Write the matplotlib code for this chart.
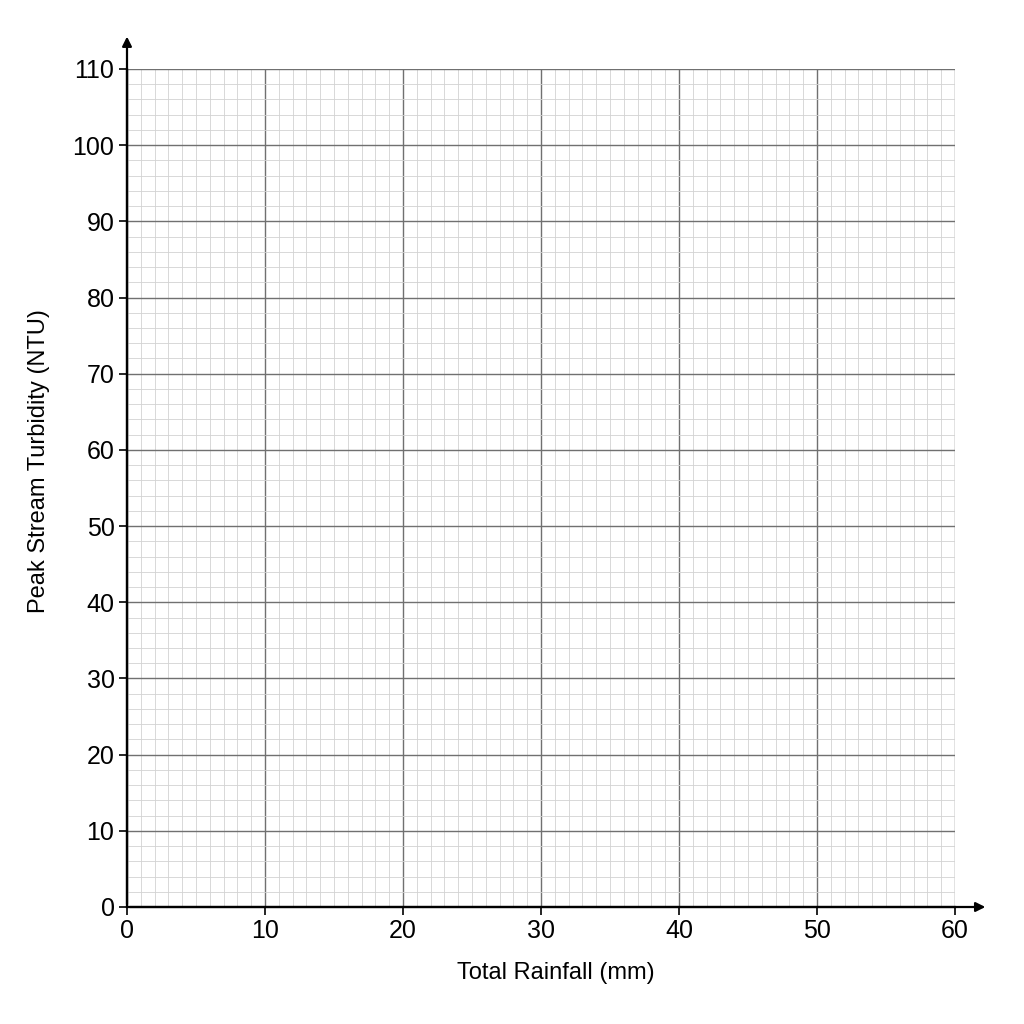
import matplotlib.pyplot as plt
import numpy as np

plt.rcParams['font.family'] = ['Liberation Sans', 'DejaVu Sans']

x_ticks = [0, 10, 20, 30, 40, 50, 60]
y_ticks = [0, 10, 20, 30, 40, 50, 60, 70, 80, 90, 100, 110]
x_minor = np.arange(0, 61, 1)
y_minor = np.arange(0, 111, 2)

fig = plt.figure(figsize=(10.24, 10.24), dpi=100)
ax = fig.add_axes([127/1024, 1-907/1024, (955-127)/1024, (907-69)/1024])

ax.set_xlim(0, 60)
ax.set_ylim(0, 110)
ax.set_xticks(x_ticks)
ax.set_yticks(y_ticks)
ax.set_xticks(x_minor, minor=True)
ax.set_yticks(y_minor, minor=True)

ax.grid(which='major', color='#707070', linewidth=1.0)
ax.grid(which='minor', color='#d2d2d2', linewidth=0.6)
ax.set_axisbelow(True)

for s in ['top', 'right']:
    ax.spines[s].set_visible(False)
for s in ['left', 'bottom']:
    ax.spines[s].set_linewidth(1.6)
    ax.spines[s].set_color('black')

ax.tick_params(which='major', labelsize=18, length=6, width=1.2, pad=3)
ax.tick_params(which='minor', length=0)

ax.set_xlabel('Total Rainfall (mm)', fontsize=17)
ax.set_ylabel('Peak Stream Turbidity (NTU)', fontsize=17)
ax.xaxis.set_label_coords(0.518, -0.066)
ax.yaxis.set_label_coords(-0.093, 0.532)

# axis arrows
ax.annotate('', xy=(1.04, 0), xytext=(0, 0), xycoords='axes fraction',
            arrowprops=dict(arrowstyle='-|>', color='black', lw=1.6,
                            mutation_scale=14), annotation_clip=False)
ax.annotate('', xy=(0, 1.042), xytext=(0, 0), xycoords='axes fraction',
            arrowprops=dict(arrowstyle='-|>', color='black', lw=1.6,
                            mutation_scale=14), annotation_clip=False)

plt.savefig('out.png', dpi=100)
